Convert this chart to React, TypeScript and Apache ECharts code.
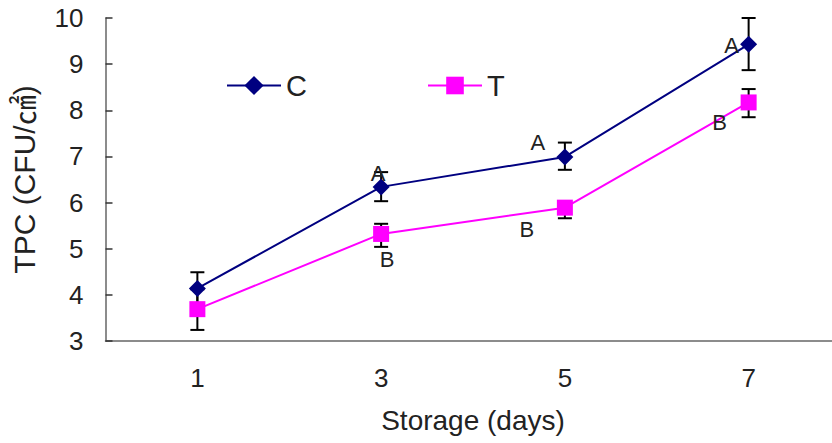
import React, { useEffect, useRef } from "react";
import * as echarts from "echarts";

const categories = ["1", "3", "5", "7"];
const cMean = [4.14, 6.34, 6.99, 9.43];
const cLow = [3.8, 6.03, 6.71, 8.87];
const cHigh = [4.49, 6.66, 7.3, 10.0];
const tMean = [3.69, 5.32, 5.89, 8.17];
const tLow = [3.24, 5.04, 5.66, 7.85];
const tHigh = [4.12, 5.54, 6.0, 8.46];
const cLetters = ["", "A", "A", "A"];
const tLetters = ["", "B", "B", "B"];
const cLetterOffsets = [[0, 0], [-3, -13], [-27, -14], [-17, 1]];
const tLetterOffsets = [[0, 0], [6, 26], [-38, 22], [-29, 20]];

const FONT = "'Liberation Sans', Arial, 'Noto Sans CJK KR', sans-serif";

function errorSeries(low: number[], high: number[]) {
  return {
    type: "custom",
    z: 1,
    silent: true,
    data: low.map((l, i) => [i, l, high[i]]),
    encode: { x: 0, y: [1, 2] },
    renderItem: (params: any, api: any) => {
      const x = api.value(0);
      const lo = api.coord([x, api.value(1)]);
      const hi = api.coord([x, api.value(2)]);
      const hw = 7;
      const style = { stroke: "#000", lineWidth: 2 };
      return {
        type: "group",
        children: [
          { type: "line", shape: { x1: lo[0], y1: lo[1], x2: hi[0], y2: hi[1] }, style },
          { type: "line", shape: { x1: lo[0] - hw, y1: lo[1], x2: lo[0] + hw, y2: lo[1] }, style },
          { type: "line", shape: { x1: hi[0] - hw, y1: hi[1], x2: hi[0] + hw, y2: hi[1] }, style },
        ],
      };
    },
  };
}

function withLetters(values: number[], letters: string[], offsets: number[][]) {
  return values.map((v, i) => ({
    value: v,
    label: {
      show: letters[i] !== "",
      formatter: letters[i],
      position: "inside",
      offset: offsets[i],
      color: "#222",
      fontSize: 22,
      fontFamily: FONT,
    },
  }));
}

export default function App() {
  const ref = useRef<HTMLDivElement>(null);
  useEffect(() => {
    document.body.style.margin = "0";
    const chart = echarts.init(ref.current!, undefined, { renderer: "svg" });
    chart.setOption({
      animation: false,
      backgroundColor: "#fff",
      textStyle: { fontFamily: FONT },
      grid: {
        left: 105.5,
        top: 18,
        width: 735,
        bottom: 102,
        containLabel: false,
        outerBoundsMode: "none",
      },
      legend: [
        {
          data: ["C"],
          left: 221,
          top: 66,
          itemWidth: 54,
          itemHeight: 24,
          itemGap: 0,
          textStyle: { fontSize: 29, color: "#222", fontFamily: FONT },
        },
        {
          data: ["T"],
          left: 422,
          top: 66,
          itemWidth: 54,
          itemHeight: 22,
          itemGap: 0,
          textStyle: { fontSize: 29, color: "#222", fontFamily: FONT },
        },
      ],
      xAxis: {
        type: "category",
        data: categories,
        boundaryGap: true,
        name: "Storage (days)",
        nameLocation: "middle",
        nameGap: 65,
        nameTextStyle: { fontSize: 28, color: "#222", fontFamily: FONT },
        axisLine: { lineStyle: { color: "#666", width: 1.5 } },
        axisTick: { inside: true, length: 8, lineStyle: { color: "#333", width: 1.5 } },
        axisLabel: { fontSize: 26, color: "#222", margin: 24, fontFamily: FONT },
        splitLine: { show: false },
      },
      yAxis: {
        type: "value",
        min: 3,
        max: 10,
        interval: 1,
        name: "TPC (CFU/㎠)",
        nameLocation: "middle",
        nameGap: 66,
        nameTextStyle: { fontSize: 30, color: "#222", fontFamily: FONT },
        axisLine: { show: true, lineStyle: { color: "#666", width: 1.5 } },
        axisTick: { show: true, inside: true, length: 7, lineStyle: { color: "#333", width: 1.5 } },
        axisLabel: { fontSize: 26, color: "#222", margin: 22, fontFamily: FONT },
        splitLine: { show: false },
      },
      series: [
        errorSeries(cLow, cHigh),
        errorSeries(tLow, tHigh),
        {
          name: "C",
          type: "line",
          z: 3,
          data: withLetters(cMean, cLetters, cLetterOffsets),
          symbol: "diamond",
          symbolSize: 17,
          itemStyle: { color: "#000080" },
          lineStyle: { color: "#000080", width: 2 },
        },
        {
          name: "T",
          type: "line",
          z: 3,
          data: withLetters(tMean, tLetters, tLetterOffsets),
          symbol: "rect",
          symbolSize: 16,
          itemStyle: { color: "#FF00FF" },
          lineStyle: { color: "#FF00FF", width: 2 },
        },
      ],
    });
    return () => chart.dispose();
  }, []);
  return <div ref={ref} style={{ width: 832, height: 443 }} />;
}
